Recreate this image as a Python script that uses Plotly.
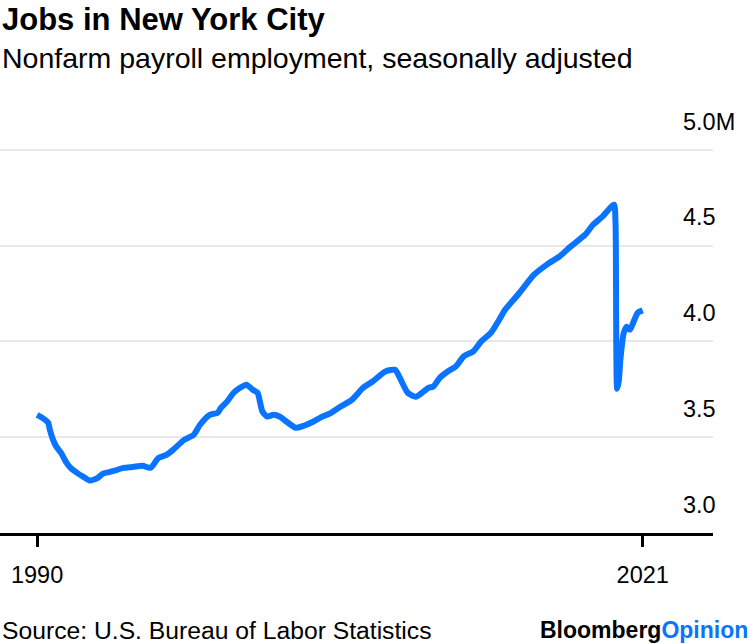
import plotly.graph_objects as go

# monthly points (millions of jobs)
dates = [
    "1990-01", "1990-03", "1990-06", "1990-08", "1990-09", "1990-11",
    "1991-01", "1991-04", "1991-07", "1991-10", "1992-02", "1992-06",
    "1992-10", "1993-03", "1993-06", "1994-01", "1994-07", "1995-01",
    "1995-07", "1995-12", "1996-05", "1996-10", "1997-02", "1997-09",
    "1998-03", "1998-07", "1999-01", "1999-06", "1999-08", "1999-12",
    "2000-04", "2000-08", "2000-12", "2001-04", "2001-07", "2001-10",
    "2002-01", "2002-05", "2002-09", "2003-01", "2003-07", "2003-12",
    "2004-06", "2004-10", "2005-05", "2005-11", "2006-06", "2007-01",
    "2007-07", "2008-03", "2008-09", "2008-12", "2009-05", "2009-10",
    "2010-03", "2010-06", "2010-09", "2011-01", "2011-06", "2011-11",
    "2012-04", "2012-10", "2013-03", "2013-09", "2014-03", "2014-06",
    "2015-03", "2015-12", "2016-08", "2017-04", "2017-11", "2018-08",
    "2019-01", "2019-07", "2020-02", "2020-03", "2020-04", "2020-05",
    "2020-06", "2020-07", "2020-08", "2020-10", "2020-12", "2021-02",
    "2021-05", "2021-08",
]
jobs = [
    3.617, 3.608, 3.591, 3.575, 3.539, 3.486,
    3.451, 3.418, 3.373, 3.340, 3.314, 3.293,
    3.274, 3.288, 3.309, 3.324, 3.340, 3.345,
    3.351, 3.340, 3.392, 3.408, 3.434, 3.486,
    3.512, 3.565, 3.617, 3.627, 3.653, 3.687,
    3.732, 3.758, 3.774, 3.748, 3.732, 3.634,
    3.608, 3.617, 3.607, 3.582, 3.549, 3.560,
    3.582, 3.601, 3.627, 3.660, 3.695, 3.758,
    3.791, 3.843, 3.852, 3.810, 3.732, 3.711,
    3.739, 3.758, 3.765, 3.810, 3.843, 3.869,
    3.922, 3.948, 4.000, 4.045, 4.124, 4.166,
    4.254, 4.348, 4.401, 4.444, 4.496, 4.557,
    4.610, 4.653, 4.714, 4.620, 3.753, 3.790,
    3.900, 3.980, 4.040, 4.077, 4.061, 4.098,
    4.150, 4.162,
]

y_ticks = [3.0, 3.5, 4.0, 4.5, 5.0]
y_labels = ["3.0", "3.5", "4.0", "4.5", "5.0M"]
x_ticks = ["1990-01", "2021-08"]
x_labels = ["1990", "2021"]

blue = "#0a74ff"
font = "Liberation Sans, Arial, sans-serif"

fig = go.Figure()

fig.add_trace(go.Scatter(
    x=dates,
    y=jobs,
    mode="lines",
    line=dict(color=blue, width=6, shape="spline", smoothing=0.6),
    hoverinfo="x+y",
    showlegend=False
))

fig.update_layout(
    width=750,
    height=644,
    margin=dict(l=0, r=37, t=146, b=111),
    paper_bgcolor="white",
    plot_bgcolor="white",
    font=dict(family=font, color="black"),
)

fig.update_xaxes(
    type="date",
    range=["1988-01-25", "2025-04-01"],
    tickvals=x_ticks,
    ticktext=x_labels,
    showgrid=False,
    showline=True,
    linecolor="black",
    linewidth=2.5,
    ticks="outside",
    ticklen=11,
    tickwidth=2.5,
    tickcolor="black",
    tickfont=dict(size=23.5),
    ticklabelstandoff=8,
    zeroline=False,
    fixedrange=True
)

fig.update_yaxes(
    range=[3.0, 5.02],
    side="right",
    tickvals=y_ticks,
    ticktext=y_labels,
    showgrid=True,
    gridcolor="#e8e8e8",
    gridwidth=2,
    ticks="",
    ticklabelposition="outside top",
    ticklabelstandoff=-31,
    ticklabelshift=-12,
    ticklabeloverflow="allow",
    tickfont=dict(size=23.5),
    zeroline=False,
    showline=False,
    fixedrange=True
)

fig.add_annotation(
    text="<b>Jobs in New York City</b>",
    xref="paper", yref="paper", x=0, y=1.328,
    xanchor="left", yanchor="middle", showarrow=False,
    font=dict(size=31, family=font)
)
fig.add_annotation(
    text="Nonfarm payroll employment, seasonally adjusted",
    xref="paper", yref="paper", x=0, y=1.227,
    xanchor="left", yanchor="middle", showarrow=False,
    font=dict(size=28.5, family=font)
)
fig.add_annotation(
    text="Source: U.S. Bureau of Labor Statistics",
    xref="paper", yref="paper", x=0, y=-0.251,
    xanchor="left", yanchor="middle", showarrow=False,
    font=dict(size=24.7, family=font)
)
fig.add_annotation(
    text="<b>Bloomberg<span style='color:" + blue + "'>Opinion</span></b>",
    xref="paper", yref="paper", x=750 / 713, y=-0.251,
    xanchor="right", yanchor="middle", showarrow=False,
    font=dict(size=23, family=font)
)

# drop the page's default body margin so the figure sits at the window corner
fig.write_html(
    "out.html",
    config={"displayModeBar": False},
    post_script="document.body.style.margin = '0';"
)
